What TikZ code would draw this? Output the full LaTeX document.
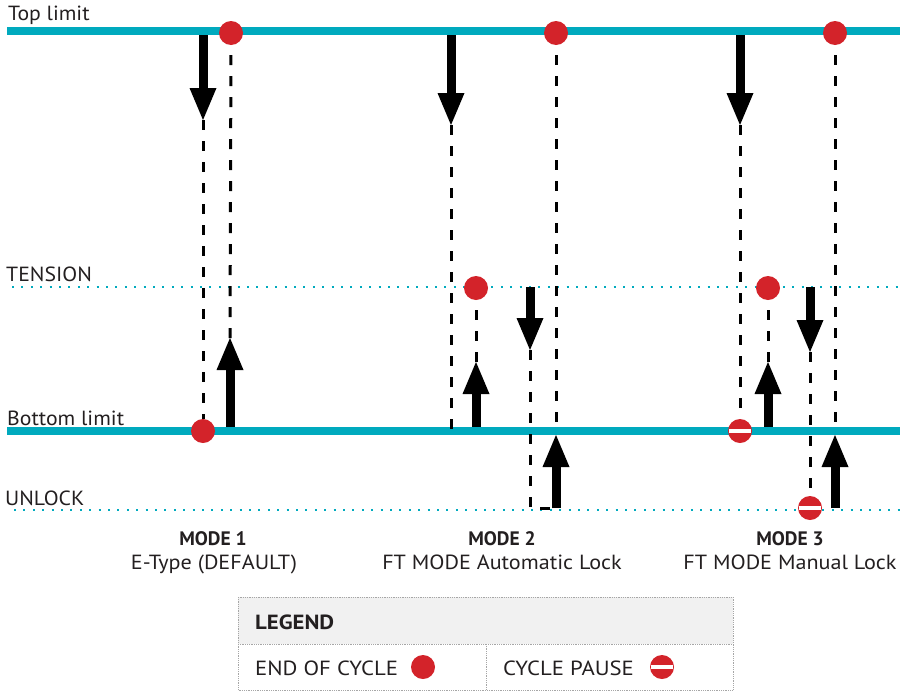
\documentclass[tikz,border=0pt]{standalone}
\usepackage{fontspec}
\setmainfont{PT Sans}
\newfontfamily\fA[FakeStretch=1.06]{PT Sans}
\newfontfamily\fB[FakeStretch=1.08]{PT Sans}
\newfontfamily\fC[FakeStretch=1.11]{PT Sans}
\usetikzlibrary{arrows.meta}
\definecolor{teal1}{RGB}{0,170,190}
\definecolor{dotred}{RGB}{211,35,42}
\definecolor{txt}{RGB}{35,31,32}
\definecolor{hdr}{RGB}{241,241,241}
\begin{document}
\begin{tikzpicture}[x=1pt,y=-1pt,
  limitline/.style={draw=teal1, line width=7.5pt},
  levelline/.style={draw=teal1, line width=2pt, dash pattern=on 2pt off 7.4pt},
  dashline/.style={draw=black, line width=3pt, dash pattern=on 10pt off 11pt},
  dashgap/.style={dashline, dash phase=11pt},
  bigarrow/.style={draw=black, line width=9pt, -{Triangle[width=27pt,length=32pt,line width=0pt]}},
  enddot/.style={circle, fill=dotred, minimum size=24pt, inner sep=0pt},
  pausedot/.style={enddot, path picture={\fill[white] ([shift={(-11pt,-2.4pt)}]path picture bounding box.center) rectangle ([shift={(11pt,2.4pt)}]path picture bounding box.center);}},
  lbl/.style={anchor=base west, inner sep=0pt, text=txt, font=\fA\fontsize{20.5}{24}\selectfont},
  modetitle/.style={anchor=base, inner sep=0pt, text=txt, font=\fontsize{19.5}{23}\selectfont\bfseries},
  modesub/.style={anchor=base, inner sep=0pt, text=txt, font=\fB\fontsize{20.5}{24}\selectfont},
  legtext/.style={anchor=base west, inner sep=0pt, text=txt, font=\fC\fontsize{20.5}{24}\selectfont},
  legborder/.style={draw=gray!70, line width=0.8pt, densely dotted},
]
\useasboundingbox (0,0) rectangle (905,691);

% level lines
\coordinate (topL) at (7,31);   \coordinate (topR) at (900,31);
\coordinate (botL) at (7,431);  \coordinate (botR) at (900,431);
\coordinate (tenL) at (12,287); \coordinate (tenR) at (900,287);
\coordinate (unlL) at (14,510); \coordinate (unlR) at (900,510);
\draw[limitline] (topL) -- (topR);
\draw[limitline] (botL) -- (botR);
\draw[levelline] (tenL) -- (tenR);
\draw[levelline] (unlL) -- (unlR);

\node[lbl] (ltop) at (8,20) {Top limit};
\node[lbl] (lten) at (6,281) {TENSION};
\node[lbl] (lbot) at (7,425) {Bottom limit};
\node[lbl] (lunl) at (5,505) {UNLOCK};

% ---------- MODE 1 ----------
\coordinate (m1a) at (203,35);
\coordinate (m1b) at (203,120);
\node[enddot] (m1top) at (231,33) {};
\node[enddot] (m1bot) at (203,431) {};
\coordinate (m1c) at (230,427);
\coordinate (m1d) at (230,338);
\draw[dashline] (m1b) -- (m1bot.north);
\draw[dashgap] (m1top.south) -- (m1d);
\draw[bigarrow] (m1a) -- (m1b);
\draw[bigarrow] (m1c) -- (m1d);

% ---------- MODE 2 ----------
\coordinate (m2a) at (451,35);
\coordinate (m2b) at (451,125);
\coordinate (m2bl) at (451,431);
\node[enddot] (m2top) at (556,33) {};
\coordinate (m2tl) at (556,431);
\coordinate (m2ua) at (556,508);
\coordinate (m2ub) at (556,435);
\node[enddot] (m2ten) at (476,288) {};
\coordinate (m2c) at (476,427);
\coordinate (m2d) at (476,362);
\coordinate (m2e) at (530,287);
\coordinate (m2f) at (530,350);
\coordinate (m2g) at (530,508);
\draw[dashline] (m2b) -- (m2bl);
\draw[dashgap] (m2top.south) -- (m2tl);
\draw[dashgap] (m2ten.south) -- (m2d);
\draw[dashline] (m2f) -- (m2g) -- (m2ua);
\draw[bigarrow] (m2a) -- (m2b);
\draw[bigarrow] (m2ua) -- (m2ub);
\draw[bigarrow] (m2c) -- (m2d);
\draw[bigarrow] (m2e) -- (m2f);

% ---------- MODE 3 ----------
\coordinate (m3a) at (740,35);
\coordinate (m3b) at (740,125);
\node[pausedot] (m3bot) at (740,431) {};
\node[enddot] (m3top) at (835,33) {};
\coordinate (m3tl) at (835,431);
\coordinate (m3ua) at (835,508);
\coordinate (m3ub) at (835,435);
\node[enddot] (m3ten) at (768,288) {};
\coordinate (m3c) at (768,427);
\coordinate (m3d) at (768,362);
\coordinate (m3e) at (810,287);
\coordinate (m3f) at (810,352);
\node[pausedot] (m3unl) at (810,508) {};
\draw[dashline] (m3b) -- (m3bot.north);
\draw[dashgap] (m3top.south) -- (m3tl);
\draw[dashgap] (m3ten.south) -- (m3d);
\draw[dashline] (m3f) -- (m3unl.north);
\draw[bigarrow] (m3a) -- (m3b);
\draw[bigarrow] (m3ua) -- (m3ub);
\draw[bigarrow] (m3c) -- (m3d);
\draw[bigarrow] (m3e) -- (m3f);

% mode labels
\node[modetitle] (t1) at (213,545) {MODE 1};
\node[modesub] (s1) at (214,569) {E-Type (DEFAULT)};
\node[modetitle] (t2) at (502,545) {MODE 2};
\node[modesub] (s2) at (502,569) {FT MODE Automatic Lock};
\node[modetitle] (t3) at (790,545) {MODE 3};
\node[modesub] (s3) at (790,569) {FT MODE Manual Lock};

% legend
\fill[hdr] (238,597) rectangle (733,644);
\draw[legborder] (238,597) rectangle (733,690);
\draw[legborder] (238,644) -- (733,644);
\draw[legborder] (486,644) -- (486,690);
\node[legtext, font=\fC\fontsize{20.5}{24}\selectfont\bfseries] (leg) at (255,629) {LEGEND};
\node[legtext] (leoc) at (255,675) {END OF CYCLE};
\node[enddot] (legend-end) at (423,667) {};
\node[legtext] (lcp) at (503,675) {CYCLE PAUSE};
\node[pausedot] (legend-pause) at (662,667) {};
\end{tikzpicture}
\end{document}
